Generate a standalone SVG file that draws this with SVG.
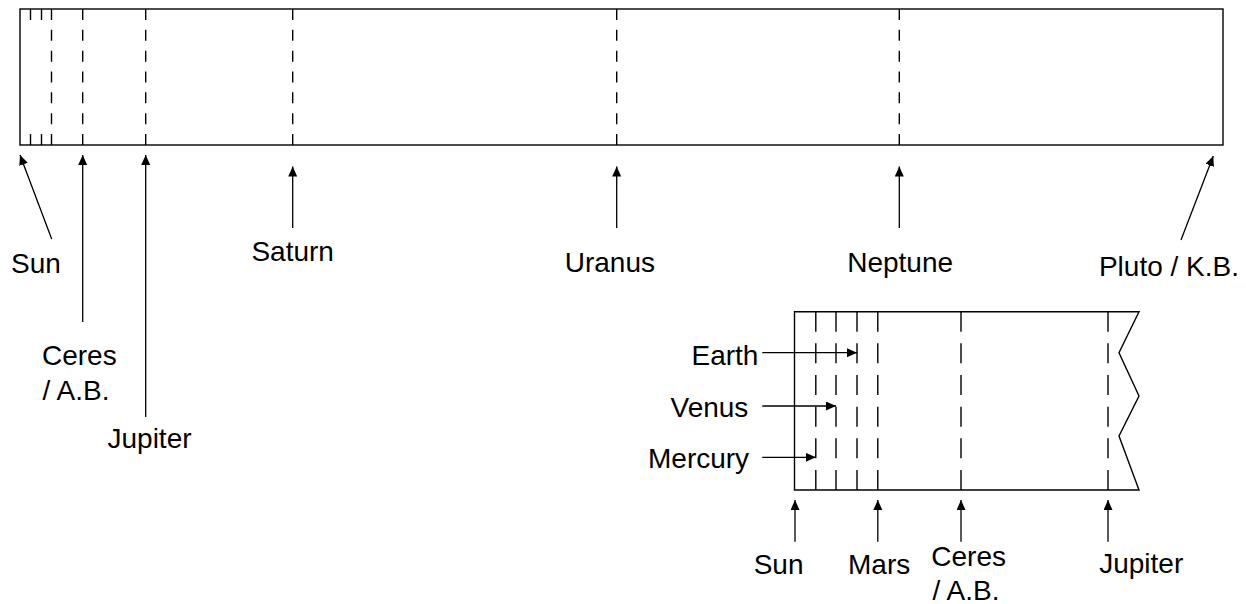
<svg xmlns="http://www.w3.org/2000/svg" width="1246" height="604" viewBox="0 0 1246 604">
  <defs>
    <marker id="ah" markerUnits="userSpaceOnUse" markerWidth="11" markerHeight="10" refX="10" refY="4.5" orient="auto">
      <path d="M0,0 L10,4.5 L0,9 z" fill="#000"/>
    </marker>
    <style>
      .frame { fill: #fff; stroke: #000; stroke-width: 1.4; }
      .d1 { stroke: #000; stroke-width: 1.4; stroke-dasharray: 11 9.83; fill: none; }
      .d0 { stroke: #000; stroke-width: 1.4; stroke-dasharray: 11 114; fill: none; }
      .d2 { stroke: #000; stroke-width: 1.4; stroke-dasharray: 20 11.66; fill: none; }
      .arr { stroke: #000; stroke-width: 1.3; fill: none; marker-end: url(#ah); }
      text { font-family: "Liberation Sans", Arial, sans-serif; font-size: 28px; fill: #000; }
    </style>
  </defs>
  <rect width="1246" height="604" fill="#fff"/>

  <g id="solar-system-bar">
    <rect class="frame" x="20" y="9" width="1203" height="136"/>
    <line class="d0" x1="30.5" y1="9" x2="30.5" y2="145"/>
    <line class="d0" x1="41.5" y1="9" x2="41.5" y2="145"/>
    <line class="d1" x1="51.5" y1="9" x2="51.5" y2="145"/>
    <line class="d1" x1="82.7" y1="9" x2="82.7" y2="145"/>
    <line class="d1" x1="145.7" y1="9" x2="145.7" y2="145"/>
    <line class="d1" x1="292.7" y1="9" x2="292.7" y2="145"/>
    <line class="d1" x1="616.7" y1="9" x2="616.7" y2="145"/>
    <line class="d1" x1="899.3" y1="9" x2="899.3" y2="145"/>
  </g>

  <g id="inner-bar">
    <path class="frame" d="M794.5,311.7 L1139,311.7 L1119,352.7 L1139,396 L1119,436 L1139,490 L794.5,490 Z"/>
    <line class="d2" x1="815.8" y1="311.7" x2="815.8" y2="490"/>
    <line class="d2" x1="836" y1="311.7" x2="836" y2="490"/>
    <line class="d2" x1="857" y1="311.7" x2="857" y2="490"/>
    <line class="d2" x1="877.8" y1="311.7" x2="877.8" y2="490"/>
    <line class="d2" x1="961" y1="311.7" x2="961" y2="490"/>
    <line class="d2" x1="1108" y1="311.7" x2="1108" y2="490"/>
  </g>

  <g id="connectors">
    <line class="arr" x1="51.7" y1="239" x2="20" y2="155"/>
    <line class="arr" x1="82.7" y1="322" x2="82.7" y2="155"/>
    <line class="arr" x1="145.7" y1="417" x2="145.7" y2="155"/>
    <line class="arr" x1="292.7" y1="228" x2="292.7" y2="166.5"/>
    <line class="arr" x1="616.7" y1="228" x2="616.7" y2="166.5"/>
    <line class="arr" x1="899.3" y1="228" x2="899.3" y2="166.5"/>
    <line class="arr" x1="1181" y1="240" x2="1213.3" y2="156"/>
    <line class="arr" x1="762.3" y1="352.7" x2="857" y2="352.7"/>
    <line class="arr" x1="762.3" y1="406" x2="836" y2="406"/>
    <line class="arr" x1="762.3" y1="457.3" x2="815.8" y2="457.3"/>
    <line class="arr" x1="795" y1="541.7" x2="795" y2="500"/>
    <line class="arr" x1="877.8" y1="541.7" x2="877.8" y2="500"/>
    <line class="arr" x1="961" y1="541.7" x2="961" y2="500"/>
    <line class="arr" x1="1108" y1="541.7" x2="1108" y2="500"/>
  </g>

  <g id="label-sun"><text x="11" y="273">Sun</text></g>
  <g id="label-ceres"><text x="42" y="365">Ceres</text><text x="42.5" y="400">/ A.B.</text></g>
  <g id="label-jupiter"><text x="107.5" y="448">Jupiter</text></g>
  <g id="label-saturn"><text x="251.4" y="261">Saturn</text></g>
  <g id="label-uranus"><text x="564.7" y="272">Uranus</text></g>
  <g id="label-neptune"><text x="847.2" y="272">Neptune</text></g>
  <g id="label-pluto"><text x="1239" y="276" text-anchor="end">Pluto / K.B.</text></g>

  <g id="label-earth"><text x="691.5" y="365">Earth</text></g>
  <g id="label-venus"><text x="670.5" y="416.7">Venus</text></g>
  <g id="label-mercury"><text x="648" y="468">Mercury</text></g>

  <g id="label-sun-2"><text x="753.7" y="574">Sun</text></g>
  <g id="label-mars"><text x="848" y="574">Mars</text></g>
  <g id="label-ceres-2"><text x="931.3" y="566">Ceres</text><text x="932.5" y="600">/ A.B.</text></g>
  <g id="label-jupiter-2"><text x="1099.2" y="573">Jupiter</text></g>
</svg>
